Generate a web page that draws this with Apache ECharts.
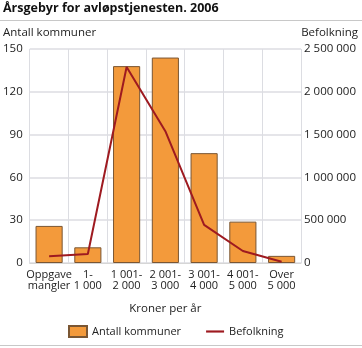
<!DOCTYPE html>
<html><head><meta charset="utf-8">
<script src="https://cdn.jsdelivr.net/npm/echarts@6/dist/echarts.min.js"></script>
<style>html,body{margin:0;padding:0;background:#fff}#c{width:362px;height:348px}</style>
</head><body><div id="c"></div>
<script>
const categories = ['Oppgave\nmangler', '1-\n1 000', '1 001-\n2 000', '2 001-\n3 000', '3 001-\n4 000', '4 001-\n5 000', 'Over\n5 000'];
const antallKommuner = [26, 11, 138, 144, 77, 29, 5];
const befolkning = [80000, 105000, 2290000, 1540000, 445000, 140000, 15000];
const leftTicks = [0, 30, 60, 90, 120, 150];
const rightTicks = [0, 500000, 1000000, 1500000, 2000000, 2500000];

const FONT = 'Open Sans';
const FS = 11.5;
const FSX = 11;
const TXT = '#222';
function fmt(v){ return String(v).replace(/\B(?=(\d{3})+(?!\d))/g, ' '); }

const chart = echarts.init(document.getElementById('c'), null, {renderer:'canvas'});
chart.setOption({
  animation: false,
  textStyle: {fontFamily: FONT, color: TXT},
  title: [
    {text: 'Årsgebyr for avløpstjenesten. 2006', left: 3, top: 2, padding: 0,
     textStyle: {fontFamily: FONT, fontWeight: 'bold', fontSize: 12.5, color: '#111'}},
    {text: 'Antall kommuner', left: 3, top: 27, padding: 0,
     textStyle: {fontFamily: FONT, fontWeight: 'normal', fontSize: FS, color: TXT}},
    {text: 'Befolkning', right: 4, top: 27, padding: 0,
     textStyle: {fontFamily: FONT, fontWeight: 'normal', fontSize: FS, color: TXT}}
  ],
  graphic: [
    {type: 'line', shape: {x1: 0, y1: 20.5, x2: 362, y2: 20.5}, style: {stroke: '#c8c8c8', lineWidth: 1}},
    {type: 'line', shape: {x1: 0, y1: 345.5, x2: 362, y2: 345.5}, style: {stroke: '#c8c8c8', lineWidth: 1}}
  ],
  grid: {left: 26, right: 61, top: 49, bottom: 85, containLabel: false},
  legend: {
    left: 63, top: 320, itemWidth: 18, itemHeight: 11, itemGap: 25,
    textStyle: {fontFamily: FONT, fontSize: FSX, color: TXT},
    data: [
      {name: 'Antall kommuner', icon: 'rect'},
      {name: 'Befolkning', icon: 'path://M0,0 L20,0 L20,2.4 L0,2.4 Z'}
    ]
  },
  xAxis: {
    type: 'category', data: categories, boundaryGap: true,
    name: 'Kroner per år', nameLocation: 'middle', nameGap: 40,
    nameTextStyle: {fontFamily: FONT, fontSize: FS, color: TXT},
    axisLine: {show: true, lineStyle: {color: '#d6d6d6'}},
    axisTick: {show: false},
    axisLabel: {interval: 0, fontFamily: FONT, fontSize: FSX, color: TXT, lineHeight: 11, margin: 6},
    splitLine: {show: true, interval: 0, lineStyle: {color: '#dcdde2', width: 1}}
  },
  yAxis: [
    {type: 'value', min: 0, max: 150, interval: 30, position: 'left',
     axisLine: {show: false}, axisTick: {show: false},
     axisLabel: {fontFamily: FONT, fontSize: FS, color: TXT, margin: 7,
       formatter: v => leftTicks.includes(v) ? fmt(v) : ''},
     splitLine: {show: true, lineStyle: {color: '#dcdde2', width: 1.5}}},
    {type: 'value', min: 0, max: 2500000, interval: 500000, position: 'right',
     axisLine: {show: false}, axisTick: {show: false},
     axisLabel: {fontFamily: FONT, fontSize: FS, color: TXT, margin: 3,
       formatter: v => rightTicks.includes(v) ? fmt(v) : ''},
     splitLine: {show: false}}
  ],
  series: [
    {name: 'Antall kommuner', type: 'bar', yAxisIndex: 0, data: antallKommuner,
     barCategoryGap: '30%',
     itemStyle: {color: '#f39a3b', borderColor: '#7a5633', borderWidth: 1}},
    {name: 'Befolkning', type: 'line', yAxisIndex: 1, data: befolkning,
     symbol: 'none', lineStyle: {color: '#9e1a20', width: 2}, itemStyle: {color: '#9e1a20'}}
  ]
});
</script></body></html>
